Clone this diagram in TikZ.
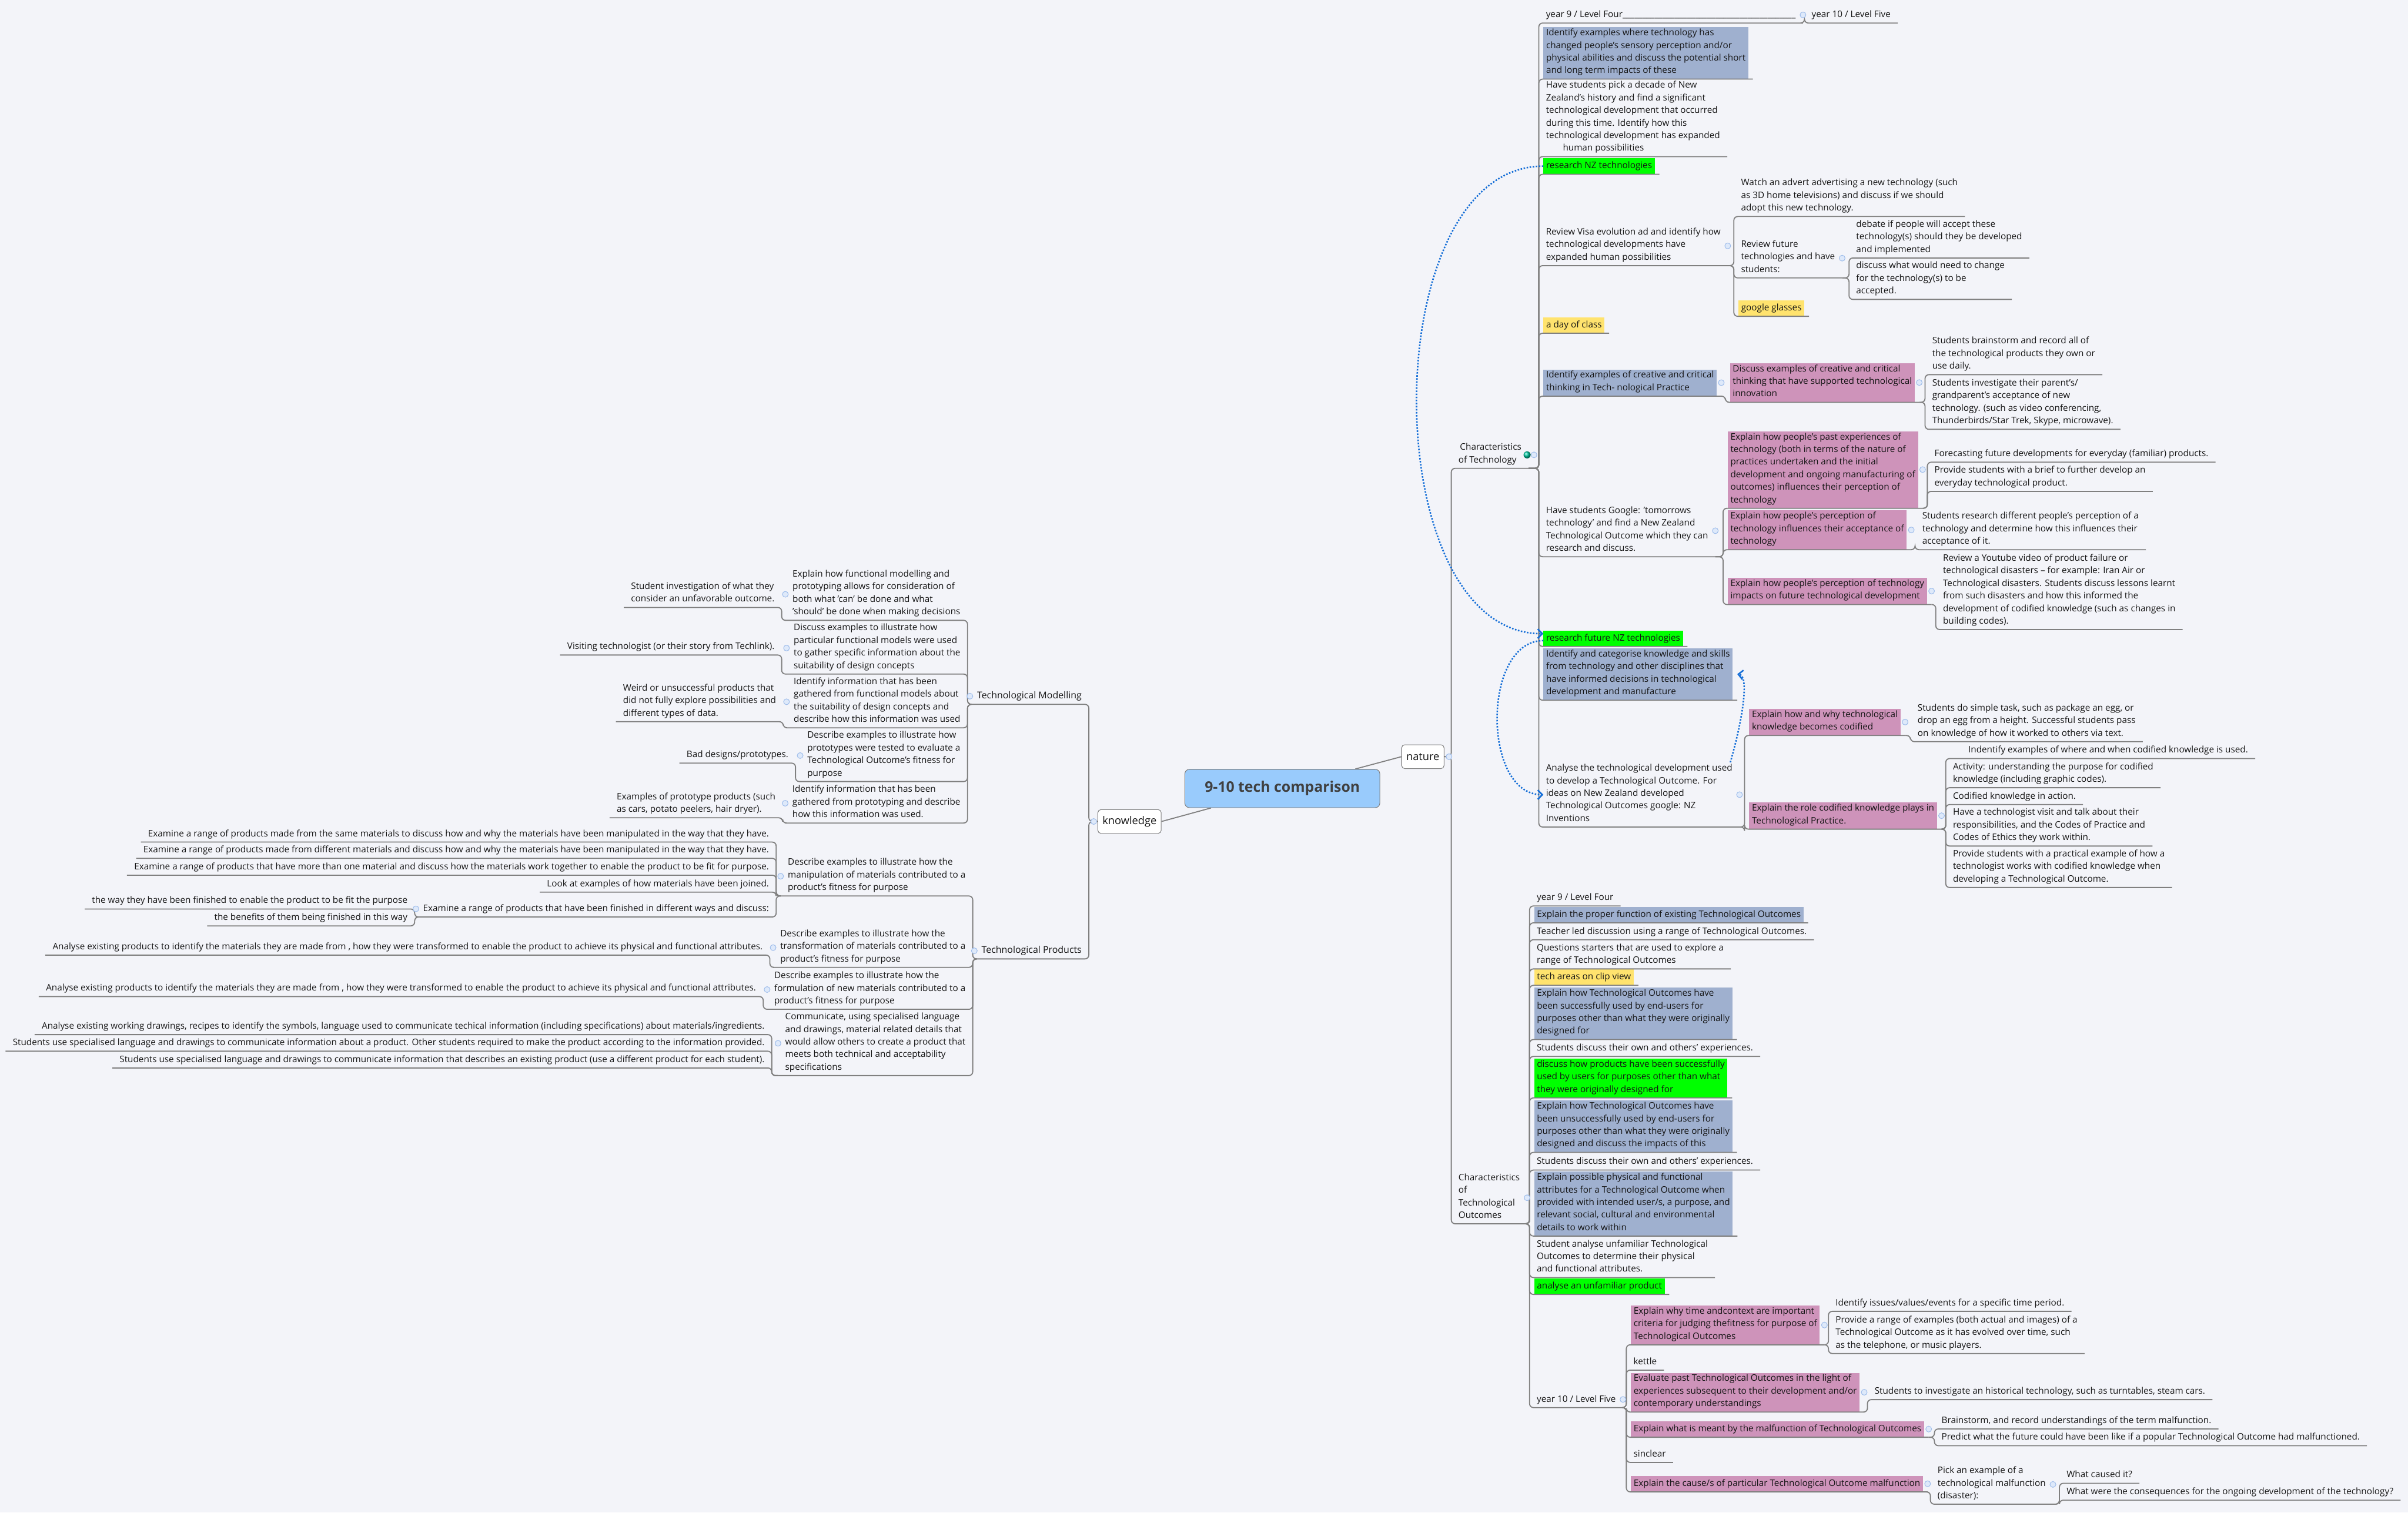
\documentclass[tikz,border=0pt]{standalone}
\usepackage{fontspec}
\setmainfont{Open Sans}
\usetikzlibrary{arrows.meta}

\definecolor{bgc}{RGB}{243,244,249}
\definecolor{linec}{RGB}{128,128,128}
\definecolor{ink}{RGB}{20,20,20}
\definecolor{rootc}{RGB}{153,203,252}
\definecolor{blueb}{RGB}{159,176,207}
\definecolor{pinkb}{RGB}{206,147,186}
\definecolor{greenb}{RGB}{0,255,0}
\definecolor{yellowb}{RGB}{255,227,110}
\definecolor{linkc}{RGB}{20,110,215}
\definecolor{foldb}{RGB}{160,190,235}
\definecolor{foldf}{RGB}{222,233,250}

\begin{document}
\begin{tikzpicture}[x=1pt,y=-1pt,
    txt/.style={inner xsep=4.5pt, inner ysep=1pt, align=left, text=ink,
      font=\fontsize{5.85}{8.2}\selectfont,
      execute at begin node=\strut, execute at end node=\strut},
    rt/.style={txt, anchor=south west},
    lt/.style={txt, anchor=south east},
    bx/.style={outer xsep=3pt, inner xsep=1.8pt, fill=#1},
    branch/.style={font=\fontsize{6.1}{8.2}\selectfont},
    root/.style={draw=linec, fill=rootc, rounded corners=3pt, minimum width=127pt,
      minimum height=25pt, text=black!75, font=\fontsize{9.5}{11}\selectfont\bfseries},
    main/.style={draw=linec, fill=white, rounded corners=2pt, minimum height=15.5pt,
      inner xsep=3pt, text=ink, font=\fontsize{7}{8}\selectfont},
    conn/.style={draw=linec, line width=0.7pt, rounded corners=2.5pt},
    link/.style={draw=linkc, line width=1pt, dash pattern=on 1pt off 1pt,
      -{Straight Barb[length=3pt,width=6pt]}},
    fold/.style={draw=foldb, fill=foldf, line width=0.4pt}]

\useasboundingbox (0,0) rectangle (1568,985);
\fill[bgc] (0,0) rectangle (1568,985);

% centre
\node[root] (root) at (835,513.5) {9-10 tech comparison};
\node[main] (nature) at (926.5,492.8) {nature};
\node[main] (knowledge) at (735.5,535) {knowledge};

% ---- nature: characteristics of technology
\node[rt] (ctech) at (945,305) {\hspace*{1pt}Characteristics\\of Technology};
\node[rt] (y9four) at (1002,15) {year 9 / Level Four\_\_\_\_\_\_\_\_\_\_\_\_\_\_\_\_\_\_\_\_\_\_\_\_\_\_\_\_\_\_\_\_\_\_\_\_\_\_\_\_\_\_\_};
\node[rt] (y10top) at (1175,15) {year 10 / Level Five};
\node[rt, bx=blueb] (idsens) at (1002,51.5) {Identify examples where technology has\\changed people's sensory perception and/or\\physical abilities and discuss the potential short\\and long term impacts of these};
\node[rt] (decade) at (1002,102) {Have students pick a decade of New\\Zealand's history and find a significant\\technological development that occurred\\during this time. Identify how this\\technological development has expanded\\\hspace*{11pt}human possibilities};
\node[rt, bx=greenb] (rnz) at (1002,113.5) {research NZ technologies};
\node[rt] (revvisa) at (1002,173) {Review Visa evolution ad and identify how\\technological developments have\\expanded human possibilities};
\node[rt] (watch) at (1129,141) {Watch an advert advertising a new technology (such\\as 3D home televisions) and discuss if we should\\adopt this new technology.};
\node[rt] (revfut) at (1129,181) {Review future\\technologies and have\\students:};
\node[rt] (debate) at (1204,168) {debate if people will accept these\\technology(s) should they be developed\\and implemented};
\node[rt] (discchg) at (1204,195) {discuss what would need to change\\for the technology(s) to be\\accepted.};
\node[rt, bx=yellowb] (glasses) at (1129,206) {google glasses};
\node[rt, bx=yellowb] (dayclass) at (1002,217) {a day of class};
\node[rt, bx=blueb] (idcreat) at (1002,258) {Identify examples of creative and critical\\thinking in Tech- nological Practice};
\node[rt, bx=pinkb] (discreat) at (1123.5,262) {Discuss examples of creative and critical\\thinking that have supported technological\\innovation};
\node[rt] (brainst) at (1253.5,244) {Students brainstorm and record all of\\the technological products they own or\\use daily.};
\node[rt] (parents) at (1253.5,279.6) {Students investigate their parent's/\\grandparent's acceptance of new\\technology. (such as video conferencing,\\Thunderbirds/Star Trek, Skype, microwave).};
\node[rt] (tomorrow) at (1002,362.6) {Have students Google: 'tomorrows\\technology' and find a New Zealand\\Technological Outcome which they can\\research and discuss.};
\node[rt, bx=pinkb] (pastexp) at (1122,331) {Explain how people's past experiences of\\technology (both in terms of the nature of\\practices undertaken and the initial\\development and ongoing manufacturing of\\outcomes) influences their perception of\\technology};
\node[rt] (forecast) at (1255,301) {Forecasting future developments for everyday (familiar) products.};
\node[rt] (brief) at (1255,320) {Provide students with a brief to further develop an\\everyday technological product.};
\node[rt, bx=pinkb] (percacc) at (1122,358) {Explain how people's perception of\\technology influences their acceptance of\\technology};
\node[rt] (research) at (1247,358) {Students research different people's perception of a\\technology and determine how this influences their\\acceptance of it.};
\node[rt, bx=pinkb] (percimp) at (1122,393.7) {Explain how people's perception of technology\\impacts on future technological development};
\node[rt] (youtube) at (1260.5,410) {Review a Youtube video of product failure or\\technological disasters – for example: Iran Air or\\Technological disasters. Students discuss lessons learnt\\from such disasters and how this informed the\\development of codified knowledge (such as changes in\\building codes).};
\node[rt, bx=greenb] (rfut) at (1002,421) {research future NZ technologies};
\node[rt, bx=blueb] (idcat) at (1002,456) {Identify and categorise knowledge and skills\\from technology and other disciplines that\\have informed decisions in technological\\development and manufacture};
\node[rt] (analyse) at (1002,538.6) {Analyse the technological development used\\to develop a Technological Outcome. For\\ideas on New Zealand developed\\Technological Outcomes google: NZ\\Inventions};
\node[rt, bx=pinkb] (codif) at (1136,479) {Explain how and why technological\\knowledge becomes codified};
\node[rt] (egg) at (1244,483) {Students do simple task, such as package an egg, or\\drop an egg from a height. Successful students pass\\on knowledge of how it worked to others via text.};
\node[rt, bx=pinkb] (role) at (1136,540) {Explain the role codified knowledge plays in\\Technological Practice.};
\node[rt] (whereused) at (1267,494) {\hspace*{10pt}Indentify examples of where and when codified knowledge is used.};
\node[rt] (activity) at (1267,513) {Activity: understanding the purpose for codified\\knowledge (including graphic codes).};
\node[rt] (inaction) at (1267,524) {Codified knowledge in action.};
\node[rt] (techvisit) at (1267,551) {Have a technologist visit and talk about their\\responsibilities, and the Codes of Practice and\\Codes of Ethics they work within.};
\node[rt] (practical) at (1267,578) {Provide students with a practical example of how a\\technologist works with codified knowledge when\\developing a Technological Outcome.};

% ---- nature: characteristics of technological outcomes
\node[rt] (cto) at (945,797) {Characteristics\\of\\Technological\\Outcomes};
\node[rt] (y9) at (996,590) {year 9 / Level Four};
\node[rt, bx=blueb] (propfun) at (996,601) {Explain the proper function of existing Technological Outcomes};
\node[rt] (teacher) at (996,612) {Teacher led discussion using a range of Technological Outcomes.};
\node[rt] (questions) at (996,631) {Questions starters that are used to explore a\\range of Technological Outcomes};
\node[rt, bx=yellowb] (clip) at (996,641.7) {tech areas on clip view};
\node[rt, bx=blueb] (succ) at (996,677) {Explain how Technological Outcomes have\\been successfully used by end-users for\\purposes other than what they were originally\\designed for};
\node[rt] (exper1) at (996,688) {Students discuss their own and others' experiences.};
\node[rt, bx=greenb] (succgreen) at (996,715) {discuss how products have been successfully\\used by users for purposes other than what\\they were originally designed for};
\node[rt, bx=blueb] (unsucc) at (996,750.5) {Explain how Technological Outcomes have\\been unsuccessfully used by end-users for\\purposes other than what they were originally\\designed and discuss the impacts of this};
\node[rt] (exper2) at (996,762) {Students discuss their own and others' experiences.};
\node[rt, bx=blueb] (attrib) at (996,805) {Explain possible physical and functional\\attributes for a Technological Outcome when\\provided with intended user/s, a purpose, and\\relevant social, cultural and environmental\\details to work within};
\node[rt] (unfam) at (996,832) {Student analyse unfamiliar Technological\\Outcomes to determine their physical\\and functional attributes.};
\node[rt, bx=greenb] (unfamgreen) at (996,843) {analyse an unfamiliar product};
\node[rt] (y10) at (996,916.7) {year 10 / Level Five};
\node[rt, bx=pinkb] (whytime) at (1059,875.8) {Explain why time andcontext are important\\criteria for judging thefitness for purpose of\\Technological Outcomes};
\node[rt] (issues) at (1190.6,854) {Identify issues/values/events for a specific time period.};
\node[rt] (evolved) at (1190.6,881.5) {Provide a range of examples (both actual and images) of a\\Technological Outcome as it has evolved over time, such\\as the telephone, or music players.};
\node[rt] (kettle) at (1059,892.3) {kettle};
\node[rt, bx=pinkb] (evalpast) at (1059,919.6) {Evaluate past Technological Outcomes in the light of\\experiences subsequent to their development and/or\\contemporary understandings};
\node[rt] (historic) at (1216,911.5) {Students to investigate an historical technology, such as turntables, steam cars.};
\node[rt, bx=pinkb] (malf) at (1059,936) {Explain what is meant by the malfunction of Technological Outcomes};
\node[rt] (brainmal) at (1259.6,930.6) {Brainstorm, and record understandings of the term malfunction.};
\node[rt] (predict) at (1259.6,941.5) {Predict what the future could have been like if a popular Technological Outcome had malfunctioned.};
\node[rt] (sinclear) at (1059,952.4) {sinclear};
\node[rt, bx=pinkb] (cause) at (1059,971.6) {Explain the cause/s of particular Technological Outcome malfunction};
\node[rt] (pick) at (1257,979.6) {Pick an example of a\\technological malfunction\\(disaster):};
\node[rt] (caused) at (1341,966) {What caused it?};
\node[rt] (conseq) at (1341,977) {What were the consequences for the ongoing development of the technology?};

% ---- knowledge: technological modelling
\node[lt, branch] (tmod) at (709,458.7) {Technological Modelling};
\node[lt] (mod1) at (630,404) {Explain how functional modelling and\\prototyping allows for consideration of\\both what 'can' be done and what\\'should' be done when making decisions};
\node[lt] (unfav) at (509,395.6) {Student investigation of what they\\consider an unfavorable outcome.};
\node[lt] (mod2) at (630,439) {Discuss examples to illustrate how\\particular functional models were used\\to gather specific information about the\\suitability of design concepts};
\node[lt] (techlink) at (509,426.6) {Visiting technologist (or their story from Techlink).};
\node[lt] (mod3) at (630,474) {Identify information that has been\\gathered from functional models about\\the suitability of design concepts and\\describe how this information was used};
\node[lt] (weird) at (510,470) {Weird or unsuccessful products that\\did not fully explore possibilities and\\different types of data.};
\node[lt] (mod4) at (630,509) {Describe examples to illustrate how\\prototypes were tested to evaluate a\\Technological Outcome's fitness for\\purpose};
\node[lt] (baddes) at (518,497) {Bad designs/prototypes.};
\node[lt] (mod5) at (630,536) {Identify information that has been\\gathered from prototyping and describe\\how this information was used.};
\node[lt] (protoex) at (509.6,532.6) {Examples of prototype products (such\\as cars, potato peelers, hair dryer).};

% ---- knowledge: technological products
\node[lt, branch] (tprod) at (709,624.5) {Technological Products};
\node[lt] (prod1) at (633.4,583.5) {Describe examples to illustrate how the\\manipulation of materials contributed to a\\product's fitness for purpose};
\node[lt] (samemat) at (505.4,548.4) {Examine a range of products made from the same materials to discuss how and why the materials have been manipulated in the way that they have.};
\node[lt] (diffmat) at (505.4,559) {Examine a range of products made from different materials and discuss how and why the materials have been manipulated in the way that they have.};
\node[lt] (moremat) at (505.4,570) {Examine a range of products that have more than one material and discuss how the materials work together to enable the product to be fit for purpose.};
\node[lt] (joined) at (505.4,581) {Look at examples of how materials have been joined.};
\node[lt] (finished) at (505.4,597.2) {Examine a range of products that have been finished in different ways and discuss:};
\node[lt] (finway) at (270,592) {the way they have been finished to enable the product to be fit the purpose};
\node[lt] (finben) at (270,603) {the benefits of them being finished in this way};
\node[lt] (prod2) at (633.4,630) {Describe examples to illustrate how the\\transformation of materials contributed to a\\product's fitness for purpose};
\node[lt] (transf) at (501.3,622) {Analyse existing products to identify the materials they are made from , how they were transformed to enable the product to achieve its physical and functional attributes.};
\node[lt] (prod3) at (633.4,657.3) {Describe examples to illustrate how the\\formulation of new materials contributed to a\\product's fitness for purpose};
\node[lt] (formul) at (497,649) {Analyse existing products to identify the materials they are made from , how they were transformed to enable the product to achieve its physical and functional attributes.};
\node[lt] (prod4) at (633.4,700.5) {Communicate, using specialised language\\and drawings, material related details that\\would allow others to create a product that\\meets both technical and acceptability\\specifications};
\node[lt] (drawings) at (502.5,673.8) {Analyse existing working drawings, recipes to identify the symbols, language used to communicate techical information (including specifications) about materials/ingredients.};
\node[lt] (spec1) at (502.5,684.6) {Students use specialised language and drawings to communicate information about a product. Other students required to make the product according to the information provided.};
\node[lt] (spec2) at (502.5,695.5) {Students use specialised language and drawings to communicate information that describes an existing product (use a different product for each student).};

% connectors
\draw[conn] (root) -- (nature.west);
\draw[conn] (root) -- (knowledge.east);
\foreach \n in {ctech,cto}
  \draw[conn] (nature.east) -| (\n.south west) -- (\n.south east);
\foreach \n in {y9four,idsens,decade,rnz,revvisa,dayclass,idcreat,tomorrow,rfut,idcat,analyse}
  \draw[conn] (ctech.south east) -| (\n.south west) -- (\n.south east);
\draw[conn] (y9four.south east) -| (y10top.south west) -- (y10top.south east);
\foreach \n in {watch,revfut,glasses}
  \draw[conn] (revvisa.south east) -| (\n.south west) -- (\n.south east);
\foreach \n in {debate,discchg}
  \draw[conn] (revfut.south east) -| (\n.south west) -- (\n.south east);
\draw[conn] (idcreat.south east) -| (discreat.south west) -- (discreat.south east);
\foreach \n in {brainst,parents}
  \draw[conn] (discreat.south east) -| (\n.south west) -- (\n.south east);
\foreach \n in {pastexp,percacc,percimp}
  \draw[conn] (tomorrow.south east) -| (\n.south west) -- (\n.south east);
\foreach \n in {forecast,brief}
  \draw[conn] (pastexp.south east) -| (\n.south west) -- (\n.south east);
\draw[conn] (percacc.south east) -| (research.south west) -- (research.south east);
\draw[conn] (percimp.south east) -| (youtube.south west) -- (youtube.south east);
\foreach \n in {codif,role}
  \draw[conn] (analyse.south east) -| (\n.south west) -- (\n.south east);
\draw[conn] (codif.south east) -| (egg.south west) -- (egg.south east);
\foreach \n in {whereused,activity,inaction,techvisit,practical}
  \draw[conn] (role.south east) -| (\n.south west) -- (\n.south east);
\foreach \n in {y9,propfun,teacher,questions,clip,succ,exper1,succgreen,unsucc,exper2,attrib,unfam,unfamgreen,y10}
  \draw[conn] (cto.south east) -| (\n.south west) -- (\n.south east);
\foreach \n in {whytime,kettle,evalpast,malf,sinclear,cause}
  \draw[conn] (y10.south east) -| (\n.south west) -- (\n.south east);
\foreach \n in {issues,evolved}
  \draw[conn] (whytime.south east) -| (\n.south west) -- (\n.south east);
\draw[conn] (evalpast.south east) -| (historic.south west) -- (historic.south east);
\foreach \n in {brainmal,predict}
  \draw[conn] (malf.south east) -| (\n.south west) -- (\n.south east);
\draw[conn] (cause.south east) -| (pick.south west) -- (pick.south east);
\foreach \n in {caused,conseq}
  \draw[conn] (pick.south east) -| (\n.south west) -- (\n.south east);

\foreach \n in {tmod,tprod}
  \draw[conn] (knowledge.west) -| (\n.south east) -- (\n.south west);
\foreach \n in {mod1,mod2,mod3,mod4,mod5}
  \draw[conn] (tmod.south west) -| (\n.south east) -- (\n.south west);
\draw[conn] (mod1.south west) -| (unfav.south east) -- (unfav.south west);
\draw[conn] (mod2.south west) -| (techlink.south east) -- (techlink.south west);
\draw[conn] (mod3.south west) -| (weird.south east) -- (weird.south west);
\draw[conn] (mod4.south west) -| (baddes.south east) -- (baddes.south west);
\draw[conn] (mod5.south west) -| (protoex.south east) -- (protoex.south west);
\foreach \n in {prod1,prod2,prod3,prod4}
  \draw[conn] (tprod.south west) -| (\n.south east) -- (\n.south west);
\foreach \n in {samemat,diffmat,moremat,joined,finished}
  \draw[conn] (prod1.south west) -| (\n.south east) -- (\n.south west);
\foreach \n in {finway,finben}
  \draw[conn] (finished.south west) -| (\n.south east) -- (\n.south west);
\draw[conn] (prod2.south west) -| (transf.south east) -- (transf.south west);
\draw[conn] (prod3.south west) -| (formul.south east) -- (formul.south west);
\foreach \n in {drawings,spec1,spec2}
  \draw[conn] (prod4.south west) -| (\n.south east) -- (\n.south west);

% fold markers
\foreach \n in {y9four,revvisa,revfut,idcreat,discreat,tomorrow,pastexp,percacc,percimp,analyse,codif,role,cto,y10,whytime,evalpast,malf,cause,pick}
  \draw[fold] (\n.east) circle (1.9pt);
\foreach \n in {tmod,tprod,mod1,mod2,mod3,mod4,mod5,prod1,prod2,prod3,prod4,finished}
  \draw[fold] (\n.west) circle (1.9pt);
\draw[fold] ([xshift=3pt]nature.east) circle (1.9pt);
\draw[fold] ([xshift=-2.5pt]knowledge.west) circle (1.9pt);
\draw[fold] ([xshift=3.5pt]ctech.east) circle (1.9pt);
\shade[ball color=green!45!cyan!80!blue] ([xshift=-1pt]ctech.east) circle (2.3pt);

% dotted links
\draw[link] ([xshift=3pt]rnz.west) .. controls +(-110,0) and +(-110,0) .. ([xshift=3pt,yshift=3pt]rfut.west);
\draw[link] ([xshift=3pt,yshift=-1.5pt]rfut.west) .. controls +(-40,0) and +(-40,0) .. ([xshift=3pt]analyse.west);
\draw[link] ([xshift=-6pt]analyse.north east) .. controls +(8,-28) and +(8,1) .. (idcat.east);
\end{tikzpicture}
\end{document}
